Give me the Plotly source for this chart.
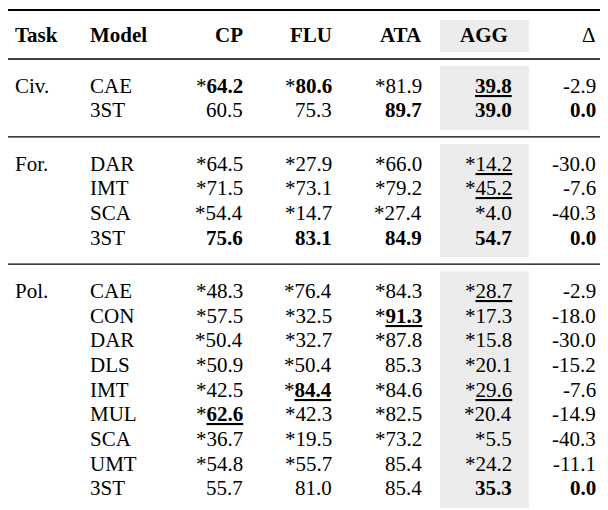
import plotly.graph_objects as go

# --- table data ---
columns = ["Task", "Model", "CP", "FLU", "ATA", "AGG", "Δ"]
tasks = ["Civ.", "For.", "Pol."]
models = [
    ["CAE", "3ST"],
    ["DAR", "IMT", "SCA", "3ST"],
    ["CAE", "CON", "DAR", "DLS", "IMT", "MUL", "SCA", "UMT", "3ST"],
]
cp = [64.2, 60.5, 64.5, 71.5, 54.4, 75.6, 48.3, 57.5, 50.4, 50.9, 42.5, 62.6, 36.7, 54.8, 55.7]
flu = [80.6, 75.3, 27.9, 73.1, 14.7, 83.1, 76.4, 32.5, 32.7, 50.4, 84.4, 42.3, 19.5, 55.7, 81.0]
ata = [81.9, 89.7, 66.0, 79.2, 27.4, 84.9, 84.3, 91.3, 87.8, 85.3, 84.6, 82.5, 73.2, 85.4, 85.4]
agg = [39.8, 39.0, 14.2, 45.2, 4.0, 54.7, 28.7, 17.3, 15.8, 20.1, 29.6, 20.4, 5.5, 24.2, 35.3]
delta = [-2.9, 0.0, -30.0, -7.6, -40.3, 0.0, -2.9, -18.0, -30.0, -15.2, -7.6, -14.9, -40.3, -11.1, 0.0]

# markers: significance star, bold, underline (row index, column name)
star = {
    "CP": [0, 2, 3, 4, 6, 7, 8, 9, 10, 11, 12, 13],
    "FLU": [0, 2, 3, 4, 6, 7, 8, 9, 10, 11, 12, 13],
    "ATA": [0, 2, 3, 4, 6, 7, 8, 10, 11, 12],
    "AGG": [2, 3, 4, 6, 7, 8, 9, 10, 11, 12, 13],
    "Δ": [],
}
bold = {
    "CP": [0, 5, 11], "FLU": [0, 5, 10], "ATA": [1, 5, 7],
    "AGG": [0, 1, 5, 14], "Δ": [1, 5, 14],
}
underline = {
    "CP": [11], "FLU": [10], "ATA": [7],
    "AGG": [0, 2, 3, 6, 10], "Δ": [],
}
values = {"CP": cp, "FLU": flu, "ATA": ata, "AGG": agg, "Δ": delta}

FONT = "Liberation Serif, Times New Roman, serif"
SIZE = 21
W, H = 608, 510

col_right = {"CP": 237, "FLU": 326, "ATA": 416, "AGG": 506, "Δ": 590}
header_y = 27
h = 24.7
gap = 26.6
top_line, head_line = 2, 51


def cell(col, i):
    s = f"{values[col][i]:.1f}"
    if i in underline[col]:
        s = f"<u>{s}</u>"
    if i in bold[col]:
        s = f"<b>{s}</b>"
    if i in star[col]:
        s = "*" + s
    return s


fig = go.Figure()
ann = []
shapes = []

# header
for c, x in [("Task", 5), ("Model", 80)]:
    ann.append(dict(x=x, y=header_y, text=f"<b>{c}</b>", xanchor="left"))
for c in columns[2:]:
    if c == "AGG":
        ann.append(dict(x=476, y=header_y, text="<b>AGG</b>", xanchor="center"))
    elif c == "Δ":
        ann.append(dict(x=col_right[c], y=header_y, text="Δ", xanchor="right"))
    else:
        ann.append(dict(x=col_right[c], y=header_y, text=f"<b>{c}</b>", xanchor="right"))

shapes.append(dict(type="rect", x0=432, x1=521, y0=12, y1=44, fillcolor="#ececec", line_width=0, layer="below"))

line_y = head_line
idx = 0
for t, group in zip(tasks, models):
    first = line_y + gap
    for k, m in enumerate(group):
        y = first + k * h
        if k == 0:
            ann.append(dict(x=5, y=y, text=t, xanchor="left"))
        ann.append(dict(x=80, y=y, text=m, xanchor="left"))
        for c in ["CP", "FLU", "ATA", "AGG", "Δ"]:
            ann.append(dict(x=col_right[c], y=y, text=cell(c, idx), xanchor="right"))
        idx += 1
    end = first + (len(group) - 1) * h + gap
    shapes.append(dict(type="rect", x0=432, x1=521, y0=line_y + 7, y1=end - 7,
                       fillcolor="#ececec", line_width=0, layer="below"))
    shapes.append(dict(type="line", x0=0, x1=W, y0=end, y1=end,
                       line=dict(color="black", width=2 if idx == len(cp) else 1.3)))
    line_y = end

shapes.append(dict(type="line", x0=0, x1=W, y0=top_line, y1=top_line, line=dict(color="black", width=2)))
shapes.append(dict(type="line", x0=0, x1=W, y0=head_line, y1=head_line, line=dict(color="black", width=1.3)))

for a in ann:
    a.update(xref="x", yref="y", yanchor="middle", showarrow=False,
             font=dict(family=FONT, size=SIZE, color="black"))

fig.update_layout(
    width=W, height=H,
    margin=dict(l=0, r=0, t=0, b=0),
    plot_bgcolor="white", paper_bgcolor="white",
    xaxis=dict(range=[0, W], visible=False, fixedrange=True),
    yaxis=dict(range=[H, 0], visible=False, fixedrange=True),
    annotations=ann, shapes=shapes, showlegend=False,
)

fig.write_html("out.html")
